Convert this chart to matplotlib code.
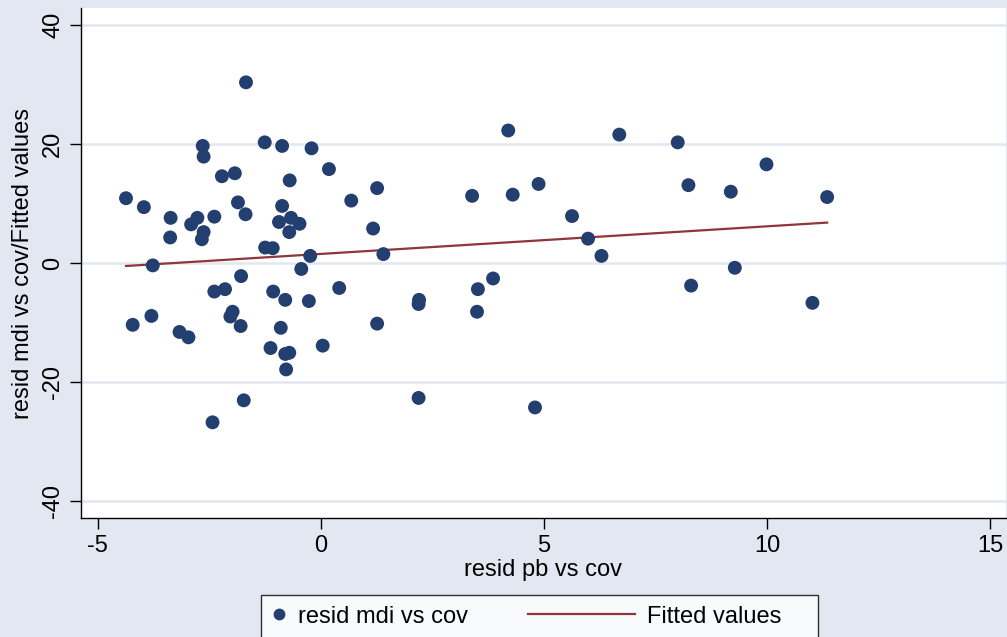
import numpy as np
import matplotlib
matplotlib.use("Agg")
import matplotlib.pyplot as plt
from matplotlib.lines import Line2D
from matplotlib.legend_handler import HandlerLine2D

plt.rcParams['font.family'] = ['Liberation Sans', 'DejaVu Sans']
plt.rcParams['axes.unicode_minus'] = False

# residuals
resid_pb = [-1.68, -2.65, -2.63, -1.26, -0.87, -0.21, 0.18, -2.22, -1.93, -0.70,
            1.26, -4.37, -3.97, -1.86, -1.69, -0.87, 0.68, -3.37, -2.77, -2.91,
            -2.39, -0.94, -0.67, -0.48, -0.71, 1.17, -3.38, -2.63, -2.67, -1.25,
            -1.08, -0.24, 1.40, -3.77, -1.79, -0.44, -2.39, -2.15, -1.07, -0.80,
            -0.27, 0.41, -4.22, -3.80, -3.17, -2.97, -1.98, -2.03, -1.80, -0.90,
            -1.13, -0.80, -0.71, 0.04, -0.78, 1.26, -1.73, -2.43, 4.20, 6.69,
            3.39, 4.30, 4.88, 5.63, 5.99, 6.29, 2.20, 2.19, 3.52, 3.86,
            3.50, 2.19, 4.80, 8.00, 9.99, 8.24, 9.19, 11.35, 9.28, 8.30,
            11.02]
resid_mdi = [30.4, 19.7, 17.9, 20.3, 19.7, 19.3, 15.8, 14.6, 15.1, 13.9,
             12.6, 10.9, 9.4, 10.2, 8.2, 9.6, 10.5, 7.6, 7.6, 6.5,
             7.8, 6.9, 7.6, 6.6, 5.2, 5.8, 4.3, 5.2, 4.0, 2.6,
             2.5, 1.2, 1.5, -0.4, -2.2, -1.0, -4.8, -4.4, -4.8, -6.2,
             -6.4, -4.2, -10.4, -8.9, -11.6, -12.5, -8.2, -9.0, -10.6, -10.9,
             -14.3, -15.3, -15.1, -13.9, -17.9, -10.2, -23.1, -26.8, 22.3, 21.6,
             11.3, 11.5, 13.3, 7.9, 4.1, 1.2, -6.2, -6.9, -4.4, -2.6,
             -8.2, -22.7, -24.3, 20.3, 16.6, 13.1, 12.0, 11.1, -0.8, -3.8,
             -6.7]

# fitted line end points
fit_x = [-4.37, 11.35]
fit_y = [-0.5, 6.8]

x_ticks = [-5, 0, 5, 10, 15]
y_ticks = [-40, -20, 0, 20, 40]

navy = '#233F6F'
maroon = '#90353B'
bg = '#E2E7F1'
fs = 17


class LongLine(HandlerLine2D):
    # stretch the line key to the left, into the column gap
    def __init__(self, extra, **kw):
        super().__init__(**kw)
        self.extra = extra

    def create_artists(self, legend, orig_handle, xdescent, ydescent,
                       width, height, fontsize, trans):
        return super().create_artists(legend, orig_handle, xdescent + self.extra,
                                      ydescent, width + self.extra, height,
                                      fontsize, trans)


fig = plt.figure(figsize=(10.07, 6.37), dpi=100, facecolor=bg)
ax = fig.add_axes([0.0804, 0.1868, 0.9186, 0.8006])
ax.set_facecolor('white')

ax.set_xlim(-5.38, 15.36)
ax.set_ylim(-42.9, 42.9)
ax.set_xticks(x_ticks)
ax.set_yticks(y_ticks)
ax.yaxis.grid(True, color='#E2E7F0', lw=1.8)
ax.set_axisbelow(True)

for s in ['top', 'right']:
    ax.spines[s].set_visible(False)
for s in ['left', 'bottom']:
    ax.spines[s].set_color('black')
    ax.spines[s].set_linewidth(1.0)

ax.tick_params(axis='both', length=8, width=1, color='black',
               labelsize=fs, pad=4)
plt.setp(ax.get_yticklabels(), rotation=90, va='center')

ax.scatter(resid_pb, resid_mdi, s=100, color=navy, edgecolors='none', zorder=3)
ax.plot(fit_x, fit_y, color=maroon, lw=1.6, zorder=2)

ax.set_xlabel('resid pb vs cov', fontsize=fs, labelpad=2)
ax.set_ylabel('resid mdi vs cov/Fitted values', fontsize=fs, labelpad=6)

h_pts = Line2D([], [], ls='none', marker='o', ms=8.5, color=navy, mec='none')
h_fit = Line2D([], [], color=maroon, lw=1.6)
leg = fig.legend([h_pts, h_fit], ['resid mdi vs cov', 'Fitted values    '],
                 loc='upper left', bbox_to_anchor=(0.2595, 0.0659), ncol=2,
                 fontsize=fs, frameon=True, fancybox=False,
                 handlelength=0.6, handletextpad=0.49, columnspacing=6.5,
                 borderpad=0.45, borderaxespad=0,
                 handler_map={h_fit: LongLine(67)})
leg.get_frame().set_edgecolor('black')
leg.get_frame().set_linewidth(1.0)
leg.get_frame().set_facecolor('white')

fig.savefig('out.png', dpi=100, facecolor=bg)
